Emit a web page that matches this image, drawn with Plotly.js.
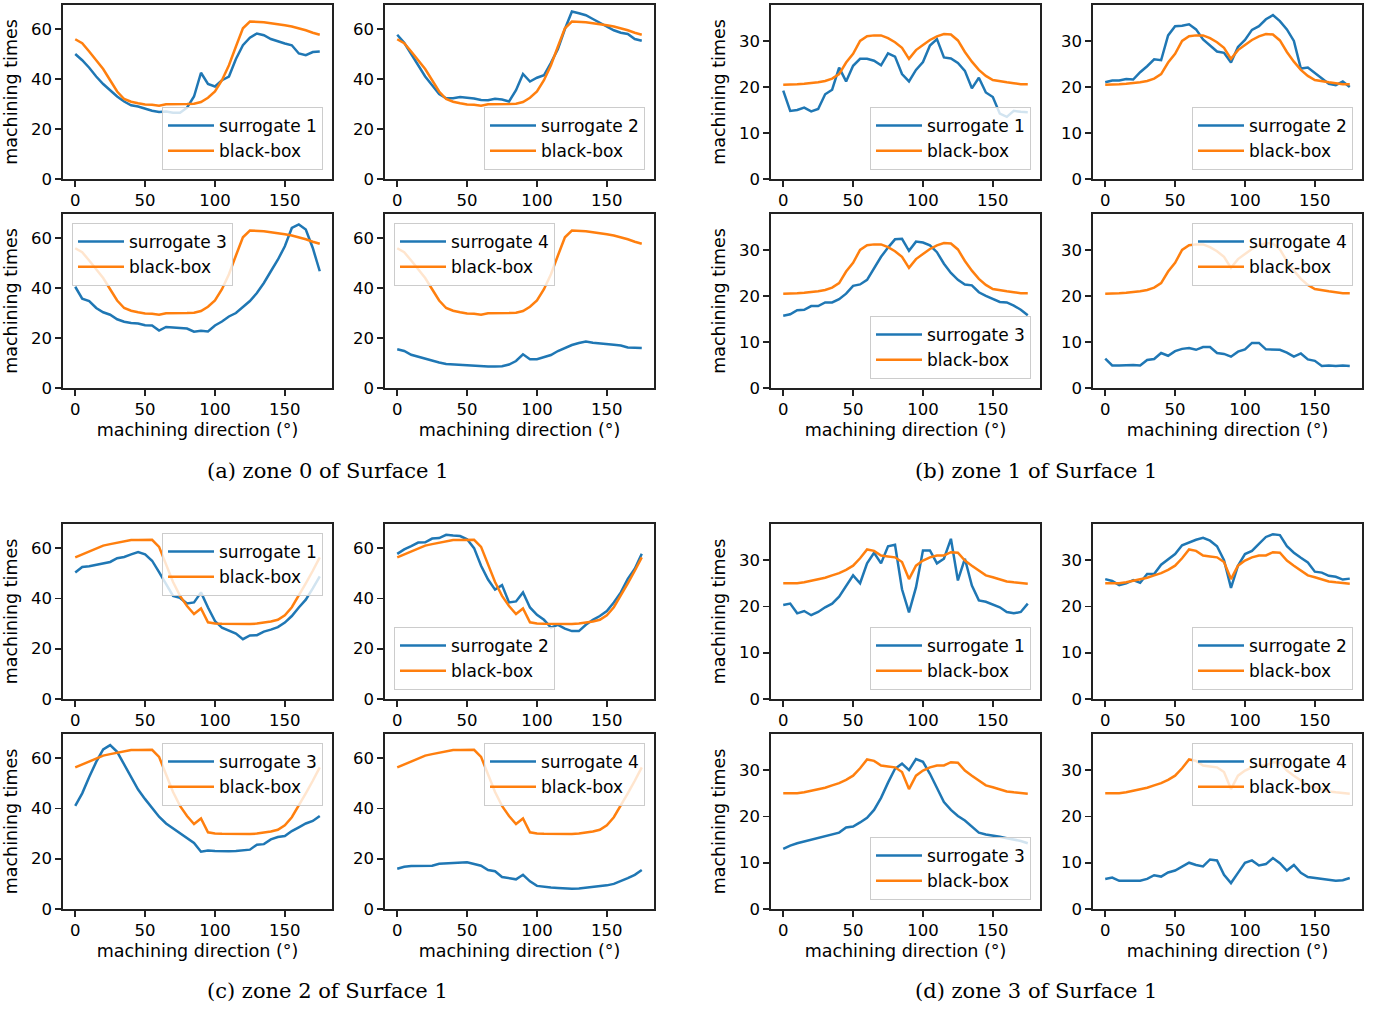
<!DOCTYPE html>
<html>
<head>
<meta charset="utf-8">
<script src="https://cdn.plot.ly/plotly-3.0.1.min.js"></script>
<style>
  html, body { margin: 0; padding: 0; background: #ffffff; }
  #chart { width: 1379px; height: 1009px; }
</style>
</head>
<body>
<div id="chart"></div>
<script>
// ---------------- DATA ----------------
const angles = [0, 5, 10, 15, 20, 25, 30, 35, 40, 45, 50, 55, 60, 65, 70, 75, 80, 85,
                90, 95, 100, 105, 110, 115, 120, 125, 130, 135, 140, 145, 150, 155, 160, 165, 170, 175];

const xTickValues = [0, 50, 100, 150];
const xTitle = 'machining direction (°)';
const yTitle = 'machining times';
const blackBoxName = 'black-box';
const surrogateNames = ['surrogate 1', 'surrogate 2', 'surrogate 3', 'surrogate 4'];
const captions = ['(a) zone 0 of Surface 1', '(b) zone 1 of Surface 1',
                  '(c) zone 2 of Surface 1', '(d) zone 3 of Surface 1'];

// zone 0
const zone0BlackBox = [55.9, 54.3, 51.0, 47.5, 44.0, 39.5, 35.0, 32.0, 30.9, 30.3, 29.8, 29.7,
                       29.3, 29.9, 29.9, 29.7, 30.0, 30.1, 30.8, 32.5, 35.0, 39.5, 45.5, 53.0,
                       60.3, 63.0, 62.9, 62.7, 62.3, 62.0, 61.5, 61.0, 60.3, 59.5, 58.5, 57.7];
const zone0Surrogate1 = [50.0, 47.5, 44.5, 41.0, 38.0, 35.5, 33.0, 31.0, 29.5, 29.0, 28.0, 27.3,
                         26.8, 27.0, 26.5, 26.5, 28.5, 33.0, 42.5, 38.0, 37.0, 39.5, 41.0, 48.0,
                         53.5, 56.5, 58.2, 57.5, 56.0, 55.0, 54.2, 53.5, 50.2, 49.5, 50.8, 51.0];
const zone0Surrogate2 = [57.7, 54.5, 50.0, 45.5, 41.0, 37.5, 34.0, 32.3, 32.3, 32.8, 32.6, 32.2,
                         31.6, 31.5, 32.1, 31.8, 31.0, 35.5, 42.0, 39.0, 40.5, 41.5, 46.5, 52.0,
                         60.0, 67.0, 66.3, 65.5, 64.0, 62.5, 61.0, 59.5, 58.5, 58.0, 56.0, 55.3];
const zone0Surrogate3 = [40.5, 35.7, 34.8, 32.0, 30.3, 29.3, 27.5, 26.5, 26.0, 25.8, 25.1, 25.0,
                         23.0, 24.4, 24.2, 24.0, 23.8, 22.5, 22.9, 22.6, 25.0, 26.6, 28.6, 30.0,
                         32.3, 34.8, 38.0, 42.0, 46.7, 51.3, 56.7, 64.0, 65.4, 63.4, 56.0, 46.7];
const zone0Surrogate4 = [15.5, 14.8, 13.3, 12.5, 11.7, 10.8, 10.2, 9.6, 9.4, 9.2, 8.9, 8.7,
                         8.6, 8.6, 8.6, 8.7, 9.4, 10.8, 13.5, 11.5, 11.5, 12.5, 13.2, 14.8,
                         16.0, 17.2, 18.0, 18.6, 18.1, 17.9, 17.8, 17.3, 17.0, 16.2, 16.1, 16.0];

// zone 1
const zone1BlackBox = [20.5, 20.5, 20.6, 20.7, 20.8, 21.0, 21.3, 21.8, 22.8, 25.3, 27.2, 30.0,
                       31.0, 31.2, 31.2, 30.6, 29.7, 28.5, 26.1, 28.0, 29.1, 30.2, 31.0, 31.5,
                       31.4, 30.1, 27.6, 25.5, 23.7, 22.4, 21.5, 21.2, 21.0, 20.8, 20.6, 20.6];
const zone1Surrogate1 = [19.2, 14.8, 15.0, 15.5, 14.7, 15.2, 18.4, 19.4, 24.2, 21.2, 24.6, 26.1,
                         26.1, 25.7, 24.7, 27.3, 26.6, 22.8, 21.2, 23.7, 25.4, 29.0, 30.4, 26.4,
                         26.2, 25.2, 23.5, 19.7, 22.0, 18.8, 17.8, 14.2, 13.5, 14.8, 14.6, 14.5];
const zone1Surrogate2 = [21.0, 21.4, 21.4, 21.7, 21.6, 23.2, 24.5, 26.0, 25.8, 31.2, 33.2, 33.3,
                         33.6, 32.5, 30.3, 29.0, 27.7, 27.4, 25.3, 28.7, 30.2, 32.4, 33.2, 34.7,
                         35.6, 34.3, 32.5, 30.0, 24.0, 24.2, 23.0, 21.8, 20.7, 20.4, 21.2, 20.0];
const zone1Surrogate3 = [15.7, 16.0, 16.9, 17.0, 17.8, 17.8, 18.6, 18.6, 19.3, 20.5, 22.2, 22.5,
                         23.5, 26.0, 28.5, 30.5, 32.3, 32.4, 29.8, 31.8, 31.6, 31.0, 29.5, 27.0,
                         25.0, 23.5, 22.5, 22.3, 20.8, 20.0, 19.3, 18.7, 18.6, 17.9, 17.0, 15.8];
const zone1Surrogate4 = [6.4, 4.9, 4.9, 5.0, 5.0, 4.9, 6.1, 6.3, 7.6, 7.0, 8.0, 8.5,
                         8.7, 8.3, 8.9, 8.9, 7.6, 7.4, 6.8, 7.9, 8.4, 9.8, 9.8, 8.4,
                         8.4, 8.3, 7.7, 6.8, 7.5, 6.2, 5.9, 4.8, 4.9, 4.8, 4.9, 4.8];

// zone 2
const zone2BlackBox = [56.3, 57.5, 58.8, 59.8, 61.0, 61.6, 62.2, 62.8, 63.2, 63.2, 63.3, 63.3,
                       60.5, 53.5, 46.5, 41.0, 37.0, 33.8, 36.0, 30.5, 30.0, 29.9, 29.8, 29.8,
                       29.7, 29.8, 30.0, 30.3, 30.8, 31.5, 33.3, 36.5, 41.0, 46.0, 51.0, 56.3];
const zone2Surrogate1 = [50.3, 52.5, 52.8, 53.3, 53.8, 54.5, 56.0, 56.5, 57.5, 58.4, 57.5, 55.0,
                         50.5, 45.5, 41.0, 40.2, 38.0, 38.4, 42.4, 36.4, 31.0, 28.4, 27.2, 26.0,
                         23.8, 25.3, 25.4, 26.8, 27.6, 28.6, 30.4, 33.0, 36.4, 39.5, 44.0, 48.8];
const zone2Surrogate2 = [57.7, 59.5, 60.8, 62.2, 62.3, 63.8, 64.0, 65.3, 65.0, 64.8, 63.5, 60.0,
                         53.0, 47.5, 43.5, 45.3, 38.4, 38.8, 42.4, 36.4, 33.5, 31.5, 28.4, 29.5,
                         28.0, 27.0, 27.0, 29.5, 31.5, 33.0, 35.0, 38.4, 42.4, 47.8, 51.8, 57.8];
const zone2Surrogate3 = [41.0, 46.0, 52.5, 58.5, 63.5, 65.2, 62.5, 57.5, 52.5, 47.5, 43.7, 40.0,
                         36.7, 34.0, 32.0, 30.2, 28.3, 26.3, 22.8, 23.3, 23.1, 23.0, 23.0, 23.1,
                         23.3, 23.6, 25.6, 25.8, 27.7, 28.6, 29.0, 31.0, 32.5, 34.0, 35.0, 37.0];
const zone2Surrogate4 = [16.0, 16.8, 17.1, 17.2, 17.1, 17.2, 18.0, 18.2, 18.3, 18.6, 18.6, 17.9,
                         17.2, 15.5, 15.0, 12.7, 12.3, 11.8, 13.6, 11.0, 9.2, 8.8, 8.6, 8.4,
                         8.2, 8.1, 8.2, 8.5, 8.8, 9.1, 9.4, 10.0, 11.0, 12.3, 13.6, 15.5];

// zone 3
const zone3BlackBox = [25.0, 25.0, 25.0, 25.2, 25.5, 25.8, 26.2, 26.7, 27.2, 27.9, 28.8, 30.4,
                       32.3, 32.0, 31.0, 30.8, 30.6, 29.6, 25.9, 28.8, 29.9, 30.6, 31.0, 31.0,
                       31.7, 31.6, 29.9, 28.8, 27.7, 26.7, 26.3, 25.9, 25.4, 25.2, 25.1, 24.9];
const zone3Surrogate1 = [20.3, 20.6, 18.5, 19.0, 18.1, 18.8, 19.8, 20.6, 22.1, 24.5, 26.7, 25.0,
                         29.3, 31.6, 29.3, 33.0, 33.3, 23.7, 18.7, 24.1, 32.1, 32.1, 29.3, 30.3,
                         34.6, 25.6, 30.3, 24.5, 21.3, 21.0, 20.4, 19.8, 18.8, 18.5, 18.8, 20.6];
const zone3Surrogate2 = [25.9, 25.5, 24.6, 25.0, 25.7, 25.1, 27.0, 27.0, 29.0, 30.2, 31.3, 33.2,
                         33.8, 34.4, 34.8, 34.2, 33.0, 30.0, 24.0, 28.8, 31.3, 32.0, 33.5, 35.0,
                         35.6, 35.4, 33.0, 31.6, 30.5, 29.5, 27.5, 27.3, 26.6, 26.4, 25.8, 26.0];
const zone3Surrogate3 = [13.0, 13.7, 14.2, 14.6, 15.0, 15.4, 15.8, 16.2, 16.5, 17.6, 17.8, 18.7,
                         19.7, 21.4, 24.0, 27.3, 30.3, 31.4, 30.0, 32.4, 31.8, 29.2, 26.0, 23.1,
                         21.4, 20.1, 19.1, 17.9, 16.5, 16.1, 15.9, 15.6, 15.3, 15.0, 14.7, 14.2];
const zone3Surrogate4 = [6.5, 6.8, 6.1, 6.1, 6.0, 6.1, 6.5, 7.3, 7.0, 7.9, 8.3, 9.2,
                         10.0, 9.5, 9.2, 10.7, 10.5, 7.4, 5.6, 7.8, 10.0, 10.5, 9.4, 9.7,
                         11.0, 9.9, 8.3, 9.5, 7.8, 6.9, 6.7, 6.4, 6.2, 6.1, 6.2, 6.7];

const zoneBlackBox = [zone0BlackBox, zone1BlackBox, zone2BlackBox, zone3BlackBox];
const zoneSurrogates = [
  [zone0Surrogate1, zone0Surrogate2, zone0Surrogate3, zone0Surrogate4],
  [zone1Surrogate1, zone1Surrogate2, zone1Surrogate3, zone1Surrogate4],
  [zone2Surrogate1, zone2Surrogate2, zone2Surrogate3, zone2Surrogate4],
  [zone3Surrogate1, zone3Surrogate2, zone3Surrogate3, zone3Surrogate4]
];

// ---------------- LAYOUT / STYLE ----------------
const W = 1379, H = 1009;
const colPx = [[63, 332], [385, 654], [771, 1040], [1093, 1362]];
const rowPx = [[5, 179], [214, 388], [524, 699], [734, 909]];
const zoneYMax = [69.6, 37.8, 69.6, 37.8];
const zoneYTick = [20, 10, 20, 10];
const legendCorner = [
  ['lr', 'lr', 'ul', 'ul'],
  ['lr', 'lr', 'lr', 'ur'],
  ['ur', 'll', 'ur', 'ur'],
  ['lr', 'lr', 'lr', 'ur']
];
const BLUE = '#1f77b4', ORANGE = '#ff7f0e';
const FONT = 'DejaVu Sans, Arial, sans-serif';

const traces = [];
const layout = {
  width: W, height: H,
  margin: {l: 0, r: 0, t: 0, b: 0, autoexpand: false},
  paper_bgcolor: '#ffffff', plot_bgcolor: '#ffffff',
  font: {family: FONT, size: 17, color: '#000000'},
  showlegend: true,
  annotations: []
};

let n = 0;
for (let z = 0; z < 4; z++) {
  for (let s = 0; s < 4; s++) {
    n++;
    const lc = s % 2, lr = Math.floor(s / 2);
    const c = (z % 2) * 2 + lc;
    const r = Math.floor(z / 2) * 2 + lr;
    const xs = n === 1 ? '' : String(n);
    const xd = [colPx[c][0] / W, colPx[c][1] / W];
    const yd = [1 - rowPx[r][1] / H, 1 - rowPx[r][0] / H];
    const legName = 'legend' + xs;

    traces.push({
      x: angles, y: zoneSurrogates[z][s], type: 'scatter', mode: 'lines',
      name: surrogateNames[s], line: {color: BLUE, width: 2.5},
      xaxis: 'x' + xs, yaxis: 'y' + xs, legend: legName, hoverinfo: 'skip'
    });
    traces.push({
      x: angles, y: zoneBlackBox[z], type: 'scatter', mode: 'lines',
      name: blackBoxName, line: {color: ORANGE, width: 2.5},
      xaxis: 'x' + xs, yaxis: 'y' + xs, legend: legName, hoverinfo: 'skip'
    });

    const axCommon = {
      showline: true, mirror: true, linecolor: '#222222', linewidth: 1.6,
      ticks: 'outside', ticklen: 6, tickwidth: 1.6, tickcolor: '#222222',
      showgrid: false, zeroline: false, fixedrange: true,
      tickfont: {family: FONT, size: 16.5, color: '#000000'}
    };
    layout['xaxis' + xs] = Object.assign({}, axCommon, {
      domain: xd, anchor: 'y' + xs, range: [-8.75, 183.75],
      tickmode: 'array', tickvals: xTickValues, automargin: true,
      title: lr === 1 ? {text: xTitle, font: {family: FONT, size: 17.5, color: '#000'}, standoff: 5} : {text: ''}
    });
    layout['yaxis' + xs] = Object.assign({}, axCommon, {
      domain: yd, anchor: 'x' + xs, range: [0, zoneYMax[z]],
      tickmode: 'linear', tick0: 0, dtick: zoneYTick[z],
      title: lc === 0 ? {text: yTitle, font: {family: FONT, size: 17.5, color: '#000'}} : {text: ''}
    });

    const corner = legendCorner[z][s];
    const pad = 9;
    const leg = {
      bgcolor: 'rgba(255,255,255,0.8)', bordercolor: '#cccccc', borderwidth: 1,
      font: {family: FONT, size: 17, color: '#000000'},
      itemwidth: 46, tracegroupgap: 0, traceorder: 'normal'
    };
    if (corner[1] === 'r') { leg.x = (colPx[c][1] - pad) / W; leg.xanchor = 'right'; }
    else { leg.x = (colPx[c][0] + pad) / W; leg.xanchor = 'left'; }
    if (corner[0] === 'l') { leg.y = 1 - (rowPx[r][1] - pad) / H; leg.yanchor = 'bottom'; }
    else { leg.y = 1 - (rowPx[r][0] + pad) / H; leg.yanchor = 'top'; }
    layout[legName] = leg;
  }
}

const captionPos = [[327.5, 471], [1036, 471], [327.5, 991], [1036, 991]];
captions.forEach((t, i) => {
  layout.annotations.push({
    text: t, xref: 'paper', yref: 'paper',
    x: captionPos[i][0] / W, y: 1 - captionPos[i][1] / H,
    xanchor: 'center', yanchor: 'middle', showarrow: false,
    font: {family: 'DejaVu Serif, Liberation Serif, serif', size: 21, color: '#000000'}
  });
});

Plotly.newPlot('chart', traces, layout, {staticPlot: true, displayModeBar: false});
</script>
</body>
</html>
